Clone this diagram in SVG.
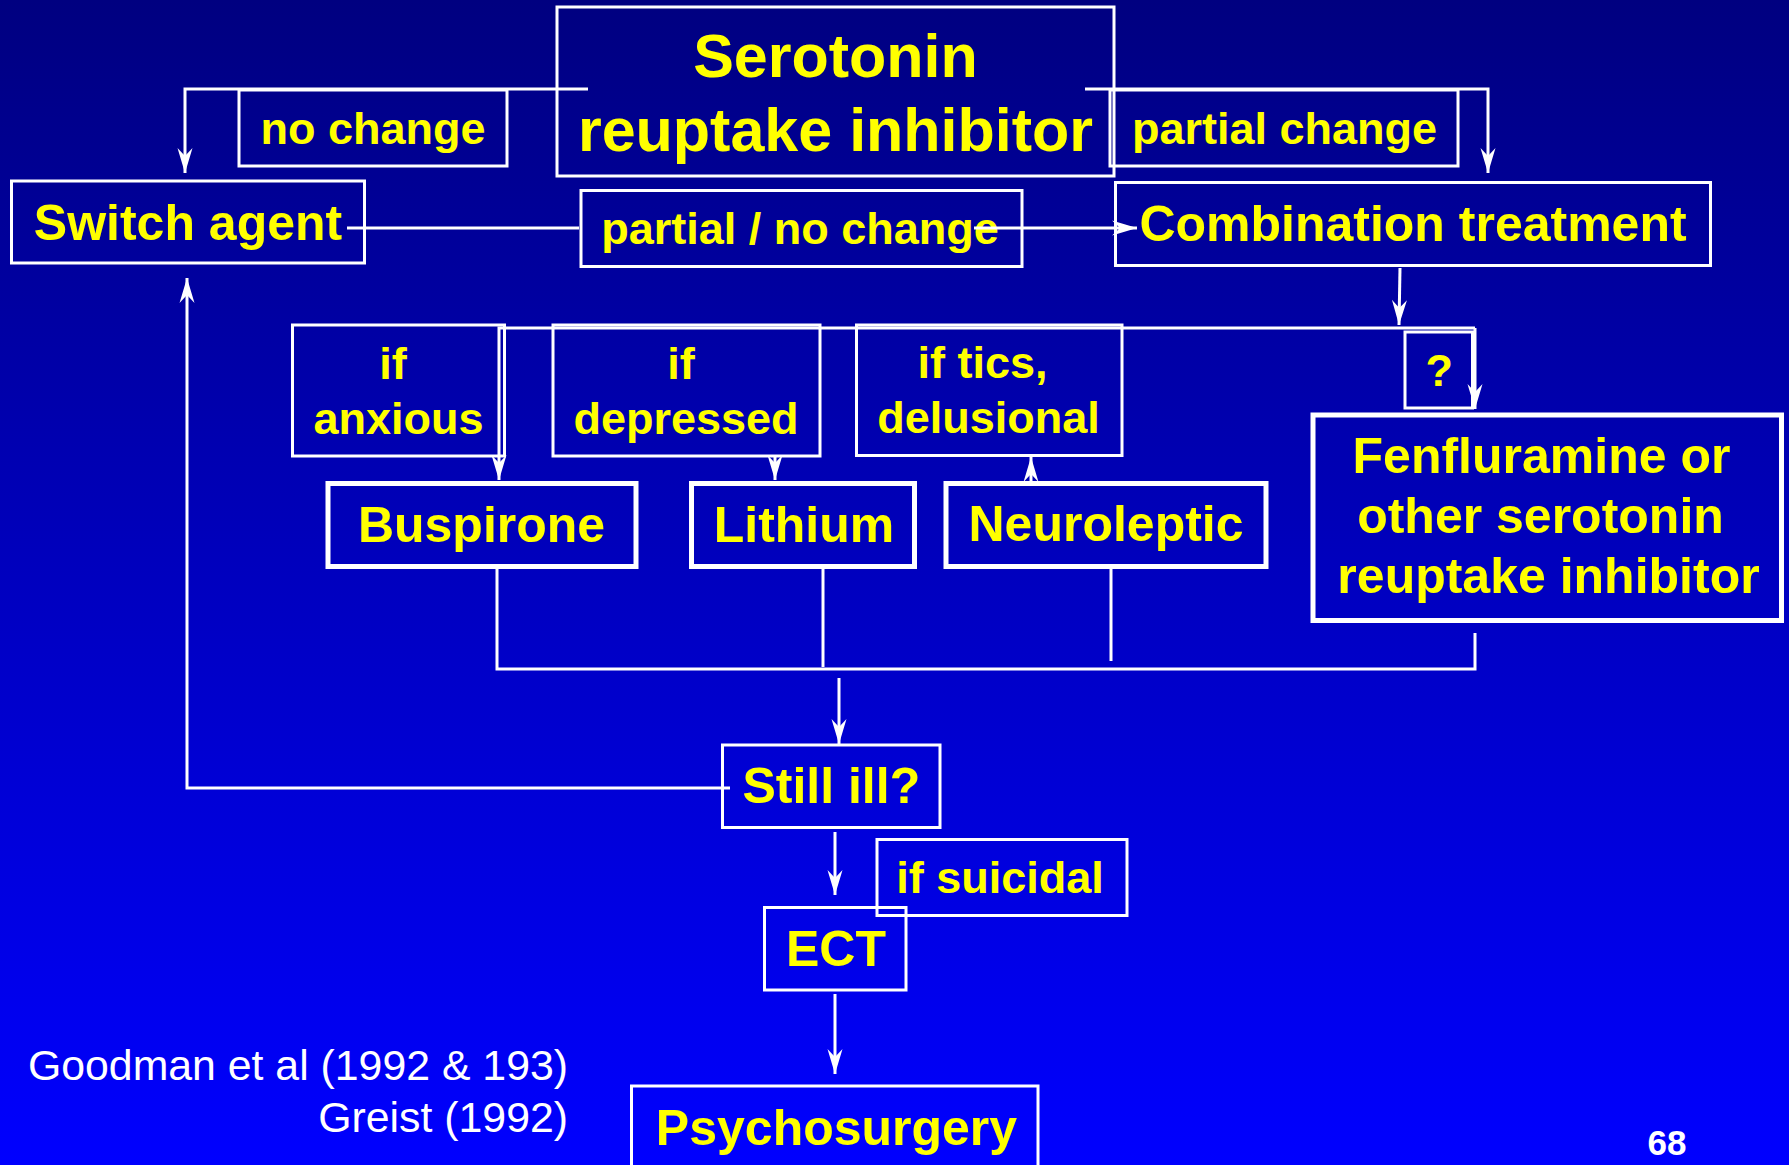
<svg xmlns="http://www.w3.org/2000/svg" width="1789" height="1165" viewBox="0 0 1789 1165">
<defs>
<linearGradient id="bg" x1="0" y1="0" x2="0" y2="1">
<stop offset="0" stop-color="#000080"/>
<stop offset="1" stop-color="#0000FF"/>
</linearGradient>
<marker id="arr" markerUnits="userSpaceOnUse" viewBox="-26 -8 27 16" refX="0" refY="0" markerWidth="27" markerHeight="16" orient="auto">
<path d="M0,0 L-25,-7.5 L-17,0 L-25,7.5 Z" fill="#FFFFFF"/>
</marker>
</defs>
<style>
.box{fill:none;stroke:#FFFFFF;stroke-width:3}
.thick{fill:none;stroke:#FFFFFF;stroke-width:5}
.t{font-family:"Liberation Sans",Arial,Helvetica,sans-serif;font-weight:bold;fill:#FFFF00;text-anchor:middle}
.big{font-size:61px}
.n{font-size:50px}
.l{font-size:45px}
.c{fill:none;stroke:#FFFFFF;stroke-width:3}
.ref{font-family:"Liberation Sans",Arial,Helvetica,sans-serif;font-size:42.8px;fill:#FFFFFF;text-anchor:end}
</style>
<rect x="0" y="0" width="1789" height="1165" fill="url(#bg)"/>

<g id="ssri">
<rect class="box" x="557" y="7" width="557" height="169"/>
<text class="t big" x="835.5" y="77">Serotonin</text>
<text class="t big" x="835.5" y="151">reuptake inhibitor</text>
</g>
<g id="lbl-nochange">
<rect class="box" x="239" y="90" width="268" height="76"/>
<text class="t l" x="373" y="144">no change</text>
</g>
<g id="lbl-partialchange">
<rect class="box" x="1110" y="90" width="348" height="76"/>
<text class="t l" x="1284.5" y="144">partial change</text>
</g>
<g id="switch">
<rect class="box" x="11.5" y="181" width="353" height="82"/>
<text class="t n" x="188" y="240">Switch agent</text>
</g>
<g id="lbl-partialnochange">
<rect class="box" x="581" y="190.5" width="441" height="76"/>
<text class="t l" x="800" y="244">partial / no change</text>
</g>
<g id="combination">
<rect class="box" x="1115.5" y="182.5" width="595" height="83"/>
<text class="t n" x="1413" y="241">Combination treatment</text>
</g>
<g id="lbl-anxious">
<rect class="box" x="292.5" y="325" width="212" height="131"/>
<text class="t l" x="393" y="379">if</text>
<text class="t l" x="398.6" y="434">anxious</text>
</g>
<g id="lbl-depressed">
<rect class="box" x="553" y="325" width="267" height="131"/>
<text class="t l" x="681" y="379">if</text>
<text class="t l" x="686" y="434">depressed</text>
</g>
<g id="lbl-tics">
<rect class="box" x="856.5" y="325" width="265.5" height="130.5"/>
<text class="t l" x="982.5" y="378">if tics,</text>
<text class="t l" x="988.5" y="433">delusional</text>
</g>
<g id="lbl-question">
<rect class="box" x="1405" y="332" width="67.5" height="76"/>
<text class="t l" x="1439.3" y="386">?</text>
</g>
<g id="buspirone">
<rect class="thick" x="328" y="483.5" width="308" height="83"/>
<text class="t n" x="481.5" y="542">Buspirone</text>
</g>
<g id="lithium">
<rect class="thick" x="691.5" y="483.5" width="223" height="83"/>
<text class="t n" x="804" y="542">Lithium</text>
</g>
<g id="neuroleptic">
<rect class="thick" x="946" y="483.5" width="320" height="83"/>
<text class="t n" x="1106" y="541">Neuroleptic</text>
</g>
<g id="fenfluramine">
<rect class="thick" x="1313" y="415" width="468.5" height="205.5"/>
<text class="t n" x="1541.5" y="473">Fenfluramine or</text>
<text class="t n" x="1540.5" y="533">other serotonin</text>
<text class="t n" x="1548.5" y="593">reuptake inhibitor</text>
</g>
<g id="stillill">
<rect class="box" x="722.5" y="745" width="217.5" height="82.5"/>
<text class="t n" x="831.3" y="803">Still ill?</text>
</g>
<g id="lbl-suicidal">
<rect class="box" x="877" y="839.5" width="250" height="76"/>
<text class="t l" x="1000" y="893">if suicidal</text>
</g>
<g id="ect">
<rect class="box" x="764.5" y="907.5" width="141.5" height="82.5"/>
<text class="t n" x="836" y="966">ECT</text>
</g>
<g id="psychosurgery">
<rect class="box" x="631.5" y="1086" width="406.5" height="120"/>
<text class="t n" x="836.5" y="1145">Psychosurgery</text>
</g>

<g id="connectors">
<path class="c" d="M588,89 H185 V173" marker-end="url(#arr)"/>
<path class="c" d="M1085,89 H1488 V173" marker-end="url(#arr)"/>
<path class="c" d="M347,228 H579"/>
<path class="c" d="M974,228 H1137" marker-end="url(#arr)"/>
<path class="c" d="M1400,268 L1399,325" marker-end="url(#arr)"/>
<path class="c" d="M1475,328 H499 V480" marker-end="url(#arr)"/>
<path class="c" d="M1475,328 V409" marker-end="url(#arr)"/>
<path class="c" d="M775,456 V480" marker-end="url(#arr)"/>
<path class="c" d="M1031,485 V457" marker-end="url(#arr)"/>
<path class="c" d="M497,568 V669 H1475 V633"/>
<path class="c" d="M823,568 V667"/>
<path class="c" d="M1111,568 V661"/>
<path class="c" d="M839,678 V744" marker-end="url(#arr)"/>
<path class="c" d="M730,788 H187 V278" marker-end="url(#arr)"/>
<path class="c" d="M835,832 V895" marker-end="url(#arr)"/>
<path class="c" d="M835,994 V1074" marker-end="url(#arr)"/>
</g>

<text class="ref" x="568" y="1080">Goodman et al (1992 &amp; 193)</text>
<text class="ref" x="568" y="1132">Greist (1992)</text>
<text x="1667" y="1155" font-family="Liberation Sans, Arial, sans-serif" font-weight="bold" font-size="35" fill="#FFFFFF" text-anchor="middle">68</text>
</svg>
